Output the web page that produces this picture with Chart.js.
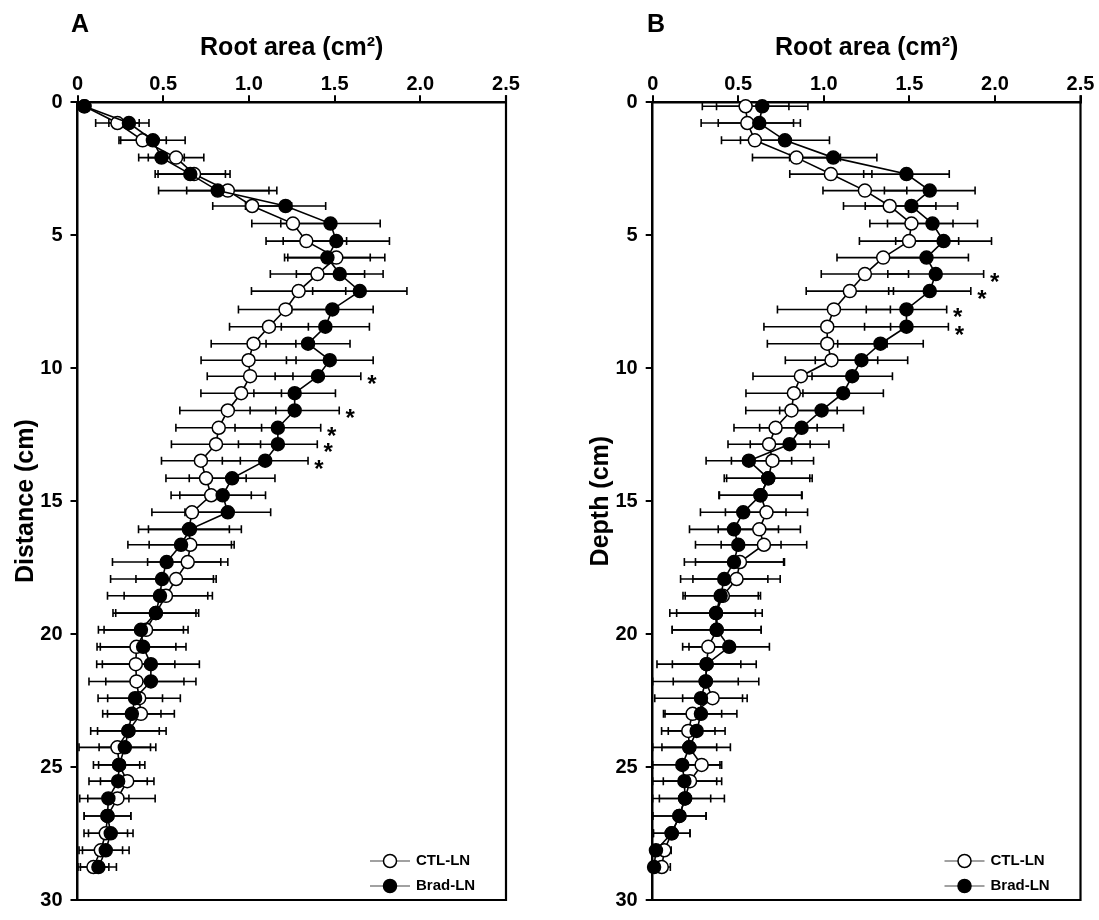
<!DOCTYPE html>
<html>
<head>
<meta charset="utf-8">
<script src="https://cdn.jsdelivr.net/npm/chart.js@4.4.0/dist/chart.umd.min.js"></script>
<style>
    body { margin: 0; background: #fff; }
    #wrap { position: relative; width: 1099px; height: 920px; }
    .panel { position: absolute; top: 0; height: 920px; }
    #panelA { left: 0; width: 560px; }
    #panelB { left: 560px; width: 539px; }
</style>
</head>
<body>
<div id="wrap">
    <div class="panel" id="panelA"><canvas id="chartA"></canvas></div>
    <div class="panel" id="panelB"><canvas id="chartB"></canvas></div>
</div>
<script>
// depth of each measurement row (cm), shared by both panels
const depthCm = [0.15, 0.78, 1.43, 2.08, 2.7, 3.32, 3.9, 4.56, 5.22, 5.84, 6.46, 7.1, 7.79, 8.44, 9.08,
    9.7, 10.3, 10.94, 11.59, 12.24, 12.86, 13.48, 14.14, 14.78, 15.42, 16.06, 16.64, 17.29, 17.93, 18.56,
    19.21, 19.84, 20.48, 21.13, 21.78, 22.41, 23.0, 23.64, 24.26, 24.92, 25.53, 26.18, 26.84, 27.49, 28.13, 28.76];

// panel A - root area (cm2) and SE
const ctlA = [0.04, 0.233, 0.38, 0.575, 0.68, 0.877, 1.019, 1.257, 1.335, 1.51, 1.40, 1.29, 1.214, 1.117, 1.027,
    0.998, 1.007, 0.955, 0.877, 0.824, 0.808, 0.72, 0.75, 0.78, 0.668, 0.65, 0.658, 0.643, 0.575, 0.516,
    0.457, 0.40, 0.344, 0.34, 0.344, 0.36, 0.37, 0.297, 0.233, 0.243, 0.29, 0.233, 0.175, 0.165, 0.136, 0.093];
const ctlErrA = [0.03, 0.127, 0.138, 0.162, 0.21, 0.24, 0.23, 0.24, 0.235, 0.283, 0.275, 0.275, 0.275, 0.23, 0.247,
    0.277, 0.25, 0.235, 0.28, 0.25, 0.26, 0.23, 0.234, 0.234, 0.234, 0.236, 0.24, 0.234, 0.234, 0.244,
    0.234, 0.245, 0.23, 0.228, 0.277, 0.24, 0.195, 0.18, 0.224, 0.15, 0.156, 0.22, 0.136, 0.127, 0.127, 0.09];
const bradA = [0.04, 0.30, 0.44, 0.49, 0.658, 0.818, 1.214, 1.476, 1.51, 1.458, 1.53, 1.647, 1.487, 1.446, 1.345,
    1.472, 1.403, 1.267, 1.267, 1.169, 1.169, 1.095, 0.902, 0.847, 0.877, 0.656, 0.604, 0.52, 0.493, 0.481,
    0.457, 0.37, 0.383, 0.428, 0.428, 0.336, 0.317, 0.297, 0.276, 0.243, 0.237, 0.18, 0.175, 0.194, 0.165, 0.122];
const bradErrA = [0.03, 0.117, 0.188, 0.133, 0.205, 0.345, 0.234, 0.29, 0.31, 0.25, 0.253, 0.275, 0.238, 0.257, 0.245,
    0.253, 0.25, 0.238, 0.26, 0.25, 0.23, 0.25, 0.25, 0.25, 0.25, 0.30, 0.31, 0.316, 0.30, 0.306,
    0.25, 0.248, 0.25, 0.283, 0.263, 0.16, 0.17, 0.22, 0.15, 0.12, 0.17, 0.12, 0.136, 0.13, 0.136, 0.105];

// panel B
const ctlB = [0.543, 0.553, 0.597, 0.84, 1.041, 1.24, 1.385, 1.512, 1.498, 1.347, 1.24, 1.152, 1.059, 1.02, 1.02,
    1.045, 0.866, 0.825, 0.811, 0.718, 0.68, 0.70, 0.675, 0.63, 0.665, 0.623, 0.65, 0.51, 0.49, 0.41,
    0.37, 0.374, 0.325, 0.315, 0.31, 0.35, 0.233, 0.208, 0.214, 0.286, 0.218, 0.189, 0.156, 0.111, 0.068, 0.053];
const ctlErrB = [0.253, 0.27, 0.195, 0.257, 0.24, 0.245, 0.27, 0.243, 0.29, 0.27, 0.255, 0.255, 0.33, 0.37, 0.35,
    0.27, 0.28, 0.28, 0.267, 0.243, 0.24, 0.24, 0.257, 0.24, 0.24, 0.24, 0.25, 0.26, 0.255, 0.22,
    0.23, 0.26, 0.15, 0.2, 0.19, 0.175, 0.17, 0.156, 0.16, 0.117, 0.156, 0.15, 0.156, 0.107, 0.04, 0.05];
const bradB = [0.64, 0.623, 0.773, 1.055, 1.483, 1.619, 1.512, 1.635, 1.70, 1.60, 1.654, 1.619, 1.483, 1.483, 1.331,
    1.22, 1.166, 1.113, 0.987, 0.87, 0.80, 0.562, 0.675, 0.63, 0.529, 0.475, 0.50, 0.475, 0.418, 0.397,
    0.37, 0.374, 0.447, 0.315, 0.31, 0.282, 0.282, 0.257, 0.214, 0.173, 0.185, 0.189, 0.156, 0.111, 0.019, 0.008];
const bradErrB = [0.267, 0.24, 0.26, 0.255, 0.25, 0.265, 0.27, 0.263, 0.28, 0.245, 0.28, 0.24, 0.235, 0.245, 0.25,
    0.27, 0.235, 0.235, 0.245, 0.245, 0.23, 0.25, 0.243, 0.243, 0.25, 0.26, 0.25, 0.29, 0.255, 0.22,
    0.27, 0.26, 0.235, 0.29, 0.31, 0.27, 0.21, 0.166, 0.24, 0.22, 0.218, 0.23, 0.156, 0.107, 0.04, 0.04];

// rows (0-based) marked with an asterisk
const starRowsA = [16, 18, 19, 20, 21];
const starRowsB = [10, 11, 12, 13];

const seriesNames = ["CTL-LN", "Brad-LN"];
const xTickValues = [0, 0.5, 1, 1.5, 2, 2.5];
const xTickLabels = ["0", "0.5", "1.0", "1.5", "2.0", "2.5"];
const yTickValues = [0, 5, 10, 15, 20, 25, 30];
const yTickLabels = ["0", "5", "10", "15", "20", "25", "30"];

const FONT = "'Liberation Sans', Arial, Helvetica, sans-serif";

function toPoints(values) {
    return values.map((v, i) => ({ x: v, y: depthCm[i] }));
}

function labelFor(values, labels, v) {
    const i = values.findIndex(t => Math.abs(t - v) < 1e-6);
    return i >= 0 ? labels[i] : "";
}

const errorBarPlugin = {
    id: "errorBars",
    beforeDatasetsDraw(chart) {
        const ctx = chart.ctx;
        const xs = chart.scales.x;
        const ys = chart.scales.y;
        ctx.save();
        ctx.strokeStyle = "#000";
        ctx.lineWidth = 1.6;
        chart.data.datasets.forEach(ds => {
            ds.data.forEach((p, i) => {
                const e = ds.errors[i];
                const y = ys.getPixelForValue(p.y);
                const x1 = xs.getPixelForValue(Math.max(0, p.x - e));
                const x2 = xs.getPixelForValue(p.x + e);
                ctx.beginPath();
                ctx.moveTo(x1, y);
                ctx.lineTo(x2, y);
                ctx.moveTo(x1, y - 4);
                ctx.lineTo(x1, y + 4);
                ctx.moveTo(x2, y - 4);
                ctx.lineTo(x2, y + 4);
                ctx.stroke();
            });
        });
        ctx.restore();
    }
};

const panelPlugin = {
    id: "panelExtras",
    afterDraw(chart, args, opts) {
        const ctx = chart.ctx;
        const area = chart.chartArea;
        const xs = chart.scales.x;
        const ys = chart.scales.y;
        ctx.save();

        // right and bottom frame
        ctx.strokeStyle = "#000";
        ctx.lineWidth = 2.2;
        ctx.beginPath();
        ctx.moveTo(area.right, area.top - 7);
        ctx.lineTo(area.right, area.bottom);
        ctx.lineTo(area.left, area.bottom);
        ctx.stroke();

        // significance stars
        const brad = chart.data.datasets[0];
        ctx.fillStyle = "#000";
        ctx.font = "bold 24px " + FONT;
        ctx.textAlign = "center";
        ctx.textBaseline = "alphabetic";
        opts.stars.forEach(i => {
            const p = brad.data[i];
            const x = xs.getPixelForValue(p.x + brad.errors[i]) + 11;
            const y = ys.getPixelForValue(p.y) + 16;
            ctx.fillText("*", x, y);
        });

        // legend
        const lx = area.right - 136;
        const rows = [
            { name: seriesNames[0], fill: "#fff", y: area.bottom - 39 },
            { name: seriesNames[1], fill: "#000", y: area.bottom - 14 }
        ];
        rows.forEach(r => {
            ctx.strokeStyle = "#444";
            ctx.lineWidth = 1.2;
            ctx.beginPath();
            ctx.moveTo(lx, r.y);
            ctx.lineTo(lx + 40, r.y);
            ctx.stroke();
            ctx.beginPath();
            ctx.arc(lx + 20, r.y, 6.5, 0, Math.PI * 2);
            ctx.fillStyle = r.fill;
            ctx.fill();
            ctx.strokeStyle = "#000";
            ctx.lineWidth = 1.5;
            ctx.stroke();
            ctx.fillStyle = "#000";
            ctx.font = "bold 15px " + FONT;
            ctx.textAlign = "left";
            ctx.textBaseline = "middle";
            ctx.fillText(r.name, lx + 46, r.y);
        });

        // panel letter
        ctx.font = "bold 25px " + FONT;
        ctx.textAlign = "left";
        ctx.textBaseline = "alphabetic";
        ctx.fillText(opts.letter, opts.letterX, 32);
        ctx.restore();
    }
};

function makeChart(canvasId, cfg) {
    return new Chart(document.getElementById(canvasId), {
        type: "scatter",
        data: {
            datasets: [{
                label: seriesNames[1],
                data: toPoints(cfg.brad),
                errors: cfg.bradErr,
                showLine: true,
                borderColor: "#000",
                borderWidth: 1.6,
                backgroundColor: "#000",
                pointBackgroundColor: "#000",
                pointBorderColor: "#000",
                pointBorderWidth: 1.5,
                pointRadius: 6.5,
                clip: false
            }, {
                label: seriesNames[0],
                data: toPoints(cfg.ctl),
                errors: cfg.ctlErr,
                showLine: true,
                borderColor: "#000",
                borderWidth: 1.6,
                backgroundColor: "#fff",
                pointBackgroundColor: "#fff",
                pointBorderColor: "#000",
                pointBorderWidth: 1.5,
                pointRadius: 6.5,
                clip: false
            }]
        },
        options: {
            responsive: true,
            maintainAspectRatio: false,
            animation: false,
            layout: { padding: { left: 0, top: 0, right: cfg.rightPad, bottom: 11 } },
            plugins: {
                legend: { display: false },
                tooltip: { enabled: false },
                panelExtras: { stars: cfg.stars, letter: cfg.letter, letterX: cfg.letterX }
            },
            scales: {
                x: {
                    type: "linear",
                    position: "top",
                    min: 0,
                    max: 2.5,
                    afterFit(s) { s.height = 102.3; },
                    ticks: {
                        stepSize: 0.5,
                        color: "#000",
                        padding: -1,
                        font: { family: FONT, size: 20, weight: "bold" },
                        callback: v => labelFor(xTickValues, xTickLabels, v)
                    },
                    grid: { drawOnChartArea: false, drawTicks: true, tickLength: 7, color: "#000", lineWidth: 2 },
                    border: { display: true, color: "#000", width: 2.5 },
                    title: {
                        display: true,
                        text: "Root area (cm²)",
                        color: "#000",
                        font: { family: FONT, size: 25, weight: "bold" },
                        padding: { top: 33, bottom: 0 }
                    }
                },
                y: {
                    type: "linear",
                    reverse: true,
                    min: 0,
                    max: 30,
                    afterFit(s) { s.width = cfg.yWidth; },
                    ticks: {
                        stepSize: 5,
                        color: "#000",
                        padding: 8,
                        font: { family: FONT, size: 20, weight: "bold" },
                        callback: v => labelFor(yTickValues, yTickLabels, v)
                    },
                    grid: { drawOnChartArea: false, drawTicks: true, tickLength: 7, color: "#000", lineWidth: 2 },
                    border: { display: true, color: "#000", width: 2.5 },
                    title: {
                        display: true,
                        text: cfg.yTitle,
                        color: "#000",
                        font: { family: FONT, size: 25, weight: "bold" },
                        padding: { top: cfg.yTitlePad, bottom: 0 }
                    }
                }
            }
        },
        plugins: [errorBarPlugin, panelPlugin]
    });
}

makeChart("chartA", {
    ctl: ctlA, ctlErr: ctlErrA, brad: bradA, bradErr: bradErrA, stars: starRowsA,
    yTitle: "Distance (cm)", yWidth: 77.5, yTitlePad: 11, rightPad: 54, letter: "A", letterX: 71
});
makeChart("chartB", {
    ctl: ctlB, ctlErr: ctlErrB, brad: bradB, bradErr: bradErrB, stars: starRowsB,
    yTitle: "Depth (cm)", yWidth: 92.7, yTitlePad: 26, rightPad: 18.5, letter: "B", letterX: 87
});
</script>
</body>
</html>
